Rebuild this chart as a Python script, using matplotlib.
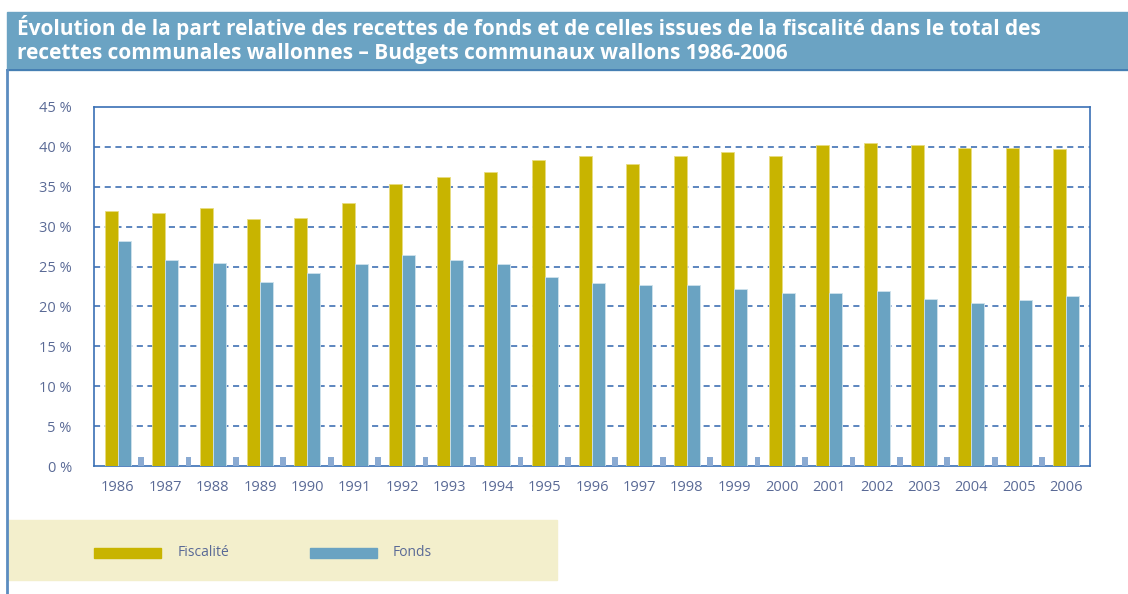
import numpy as np
import matplotlib.pyplot as plt
from matplotlib.patches import Rectangle
from matplotlib.lines import Line2D

# Data (% of total communal revenue)
years = [str(y) for y in range(1986, 2007)]
fiscalite = [32.0, 31.7, 32.4, 31.0, 31.1, 33.0, 35.3, 36.2, 36.8, 38.4, 38.9,
             37.8, 38.9, 39.3, 38.9, 40.2, 40.5, 40.2, 39.8, 39.8, 39.7]
fonds = [28.2, 25.8, 25.5, 23.1, 24.2, 25.3, 26.4, 25.8, 25.3, 23.7, 23.0,
         22.7, 22.7, 22.2, 21.7, 21.7, 21.9, 20.9, 20.4, 20.8, 21.3]
# small unlabelled marks between the groups
autres = [1.1] * 20
yticks = [0, 5, 10, 15, 20, 25, 30, 35, 40, 45]

c_fisc = '#c8b400'
c_fonds = '#6aa3c2'
c_small = '#8aaad2'
c_axis = '#3a70b5'
c_text = '#5a6a96'
band = '#6ba3c3'

plt.rcParams['font.family'] = ['Open Sans', 'DejaVu Sans']

fig = plt.figure(figsize=(11.28, 5.94), dpi=100)

# title band
fig.patches.append(Rectangle((7 / 1128, 1 - 70 / 594), 1, 58 / 594,
                             transform=fig.transFigure, color=band, zorder=0))
fig.add_artist(Line2D([7 / 1128, 1], [1 - 70 / 594] * 2, transform=fig.transFigure,
                      color='#3f78b0', lw=1.2))
fig.add_artist(Line2D([7 / 1128] * 2, [0, 1 - 70 / 594], transform=fig.transFigure,
                      color='#5b8cc0', lw=2))
fig.text(17 / 1128, 1 - 27 / 594,
         "Évolution de la part relative des recettes de fonds et de celles issues de la fiscalité dans le total des",
         color='white', fontsize=15, fontweight='bold', va='center', ha='left')
fig.text(17 / 1128, 1 - 53 / 594,
         "recettes communales wallonnes – Budgets communaux wallons 1986-2006",
         color='white', fontsize=15, fontweight='bold', va='center', ha='left')

ax = fig.add_axes([94 / 1128, 1 - 466 / 594, 996 / 1128, 359 / 594])
x = np.arange(len(years))
w = 0.274
ax.bar(x - w / 2, fiscalite, width=w, color=c_fisc, edgecolor='#e8dc80', linewidth=0.6, zorder=3)
ax.bar(x + w / 2, fonds, width=w, color=c_fonds, edgecolor='#cfe2ec', linewidth=0.6, zorder=3)
ax.bar(x[:-1] + 0.49, autres, width=0.12, color=c_small, zorder=3)

ax.set_xlim(-0.5, len(years) - 0.5)
ax.set_ylim(0, 45)
ax.set_yticks(yticks)
ax.set_yticklabels([f"{v} %" for v in yticks])
ax.set_xticks(x)
ax.set_xticklabels(years)
ax.tick_params(length=0, colors=c_text, labelsize=10.5)
ax.tick_params(axis='y', pad=16)
ax.tick_params(axis='x', pad=10)
for s in ax.spines.values():
    s.set_color(c_axis)
    s.set_linewidth(1.2)
for v in yticks[1:-1]:
    ax.axhline(v, color='#2f64ad', lw=1.1, ls=(0, (4, 3)), zorder=1)

# legend box
fig.patches.append(Rectangle((7 / 1128, 1 - 580 / 594), 550 / 1128, 60 / 594,
                             transform=fig.transFigure, color='#f3efcc', zorder=1))
fig.patches.append(Rectangle((94 / 1128, 1 - 558 / 594), 67 / 1128, 10 / 594,
                             transform=fig.transFigure, color=c_fisc, zorder=2))
fig.patches.append(Rectangle((310 / 1128, 1 - 558 / 594), 67 / 1128, 10 / 594,
                             transform=fig.transFigure, color=c_fonds, zorder=2))
fig.text(178 / 1128, 1 - 552 / 594, "Fiscalité", color=c_text, fontsize=10, va='center')
fig.text(393 / 1128, 1 - 552 / 594, "Fonds", color=c_text, fontsize=10, va='center')

fig.savefig('out.png', dpi=100)
